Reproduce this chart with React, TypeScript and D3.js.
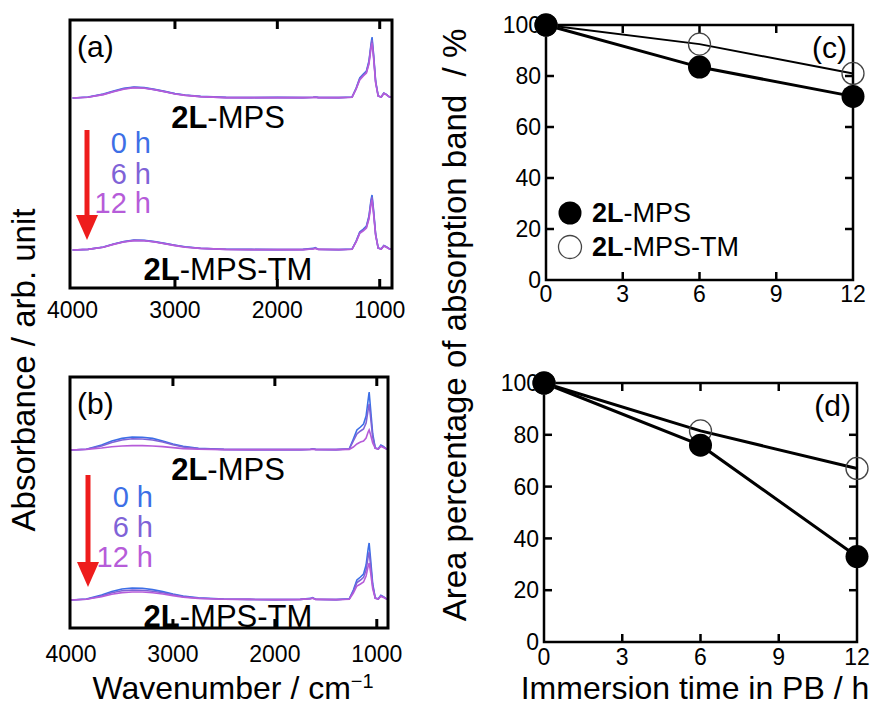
import React, { useRef, useEffect } from "react";
import * as d3 from "d3";

const wavenumbers = [4000, 3850, 3700, 3600, 3500, 3400, 3300, 3200, 3100, 3000, 2900, 2750, 2500, 2250, 2000, 1750, 1650, 1630, 1600, 1400, 1270, 1230, 1195, 1160, 1130, 1105, 1085, 1075, 1060, 1040, 1015, 985, 960, 935, 905, 880];

const hourLabels = ["0 h", "6 h", "12 h"];
const hourColors = ["#3d6fe6", "#7f63d7", "#b65cd9"];
const sampleNames = ["-MPS", "-MPS-TM"];

// panel (a) absorbance, 2L-MPS at 0 / 6 / 12 h
const aMps0 = [0, 0.005, 0.02, 0.035, 0.048, 0.055, 0.052, 0.043, 0.033, 0.022, 0.015, 0.008, 0.003, 0.002, 0.003, 0.002, 0.004, 0.005, 0.003, 0.002, 0.005, 0.05, 0.1, 0.12, 0.135, 0.185, 0.27, 0.305, 0.22, 0.085, 0.01, 0.005, 0.025, 0.018, 0.005, 0.005];
const aMps6 = [0, 0.004, 0.018, 0.033, 0.046, 0.053, 0.05, 0.042, 0.032, 0.021, 0.014, 0.007, 0.002, 0.002, 0.002, 0.002, 0.003, 0.004, 0.002, 0.002, 0.004, 0.047, 0.095, 0.115, 0.13, 0.178, 0.26, 0.29, 0.21, 0.08, 0.01, 0.005, 0.024, 0.017, 0.005, 0.005];
const aMps12 = [0, 0.004, 0.017, 0.031, 0.044, 0.051, 0.049, 0.041, 0.031, 0.02, 0.013, 0.007, 0.002, 0.002, 0.002, 0.002, 0.003, 0.004, 0.002, 0.002, 0.004, 0.045, 0.09, 0.11, 0.125, 0.17, 0.25, 0.275, 0.2, 0.075, 0.009, 0.005, 0.023, 0.016, 0.005, 0.005];
// panel (a), 2L-MPS-TM
const aTm0 = [0, 0.003, 0.015, 0.03, 0.042, 0.05, 0.049, 0.042, 0.033, 0.024, 0.016, 0.009, 0.004, 0.003, 0.002, 0.003, 0.008, 0.012, 0.004, 0.002, 0.005, 0.045, 0.09, 0.105, 0.12, 0.17, 0.25, 0.275, 0.2, 0.08, 0.01, 0.006, 0.022, 0.016, 0.006, 0.005];
const aTm6 = [0, 0.003, 0.014, 0.029, 0.041, 0.048, 0.047, 0.041, 0.032, 0.023, 0.015, 0.008, 0.003, 0.002, 0.002, 0.002, 0.006, 0.01, 0.003, 0.002, 0.004, 0.043, 0.087, 0.1, 0.115, 0.163, 0.24, 0.265, 0.19, 0.077, 0.009, 0.005, 0.021, 0.015, 0.005, 0.005];
const aTm12 = [0, 0.003, 0.014, 0.028, 0.04, 0.047, 0.046, 0.04, 0.031, 0.022, 0.014, 0.008, 0.003, 0.002, 0.002, 0.002, 0.005, 0.008, 0.003, 0.002, 0.004, 0.04, 0.083, 0.096, 0.11, 0.155, 0.228, 0.25, 0.18, 0.073, 0.009, 0.005, 0.02, 0.014, 0.005, 0.005];

// panel (b), 2L-MPS
const bMps0 = [0, 0.004, 0.025, 0.045, 0.058, 0.065, 0.064, 0.058, 0.045, 0.03, 0.018, 0.008, 0.003, 0.002, 0.002, 0.002, 0.004, 0.006, 0.003, 0.002, 0.006, 0.055, 0.1, 0.115, 0.13, 0.17, 0.25, 0.29, 0.2, 0.08, 0.01, 0.006, 0.025, 0.018, 0.005, 0.005];
const bMps6 = [0, 0.004, 0.02, 0.038, 0.05, 0.056, 0.055, 0.05, 0.04, 0.026, 0.015, 0.007, 0.003, 0.002, 0.002, 0.002, 0.003, 0.005, 0.003, 0.002, 0.005, 0.045, 0.08, 0.095, 0.105, 0.135, 0.2, 0.23, 0.16, 0.065, 0.009, 0.005, 0.02, 0.015, 0.005, 0.005];
const bMps12 = [0, 0.003, 0.01, 0.016, 0.02, 0.022, 0.022, 0.02, 0.017, 0.012, 0.007, 0.004, 0.002, 0.002, 0.002, 0.002, 0.003, 0.004, 0.002, 0.002, 0.003, 0.015, 0.03, 0.04, 0.045, 0.06, 0.09, 0.1, 0.075, 0.035, 0.008, 0.005, 0.018, 0.012, 0.005, 0.005];
// panel (b), 2L-MPS-TM
const bTm0 = [0, 0.005, 0.025, 0.043, 0.055, 0.06, 0.059, 0.052, 0.042, 0.03, 0.02, 0.011, 0.005, 0.003, 0.002, 0.003, 0.008, 0.012, 0.004, 0.002, 0.006, 0.05, 0.1, 0.115, 0.13, 0.175, 0.255, 0.285, 0.2, 0.08, 0.01, 0.006, 0.024, 0.017, 0.006, 0.005];
const bTm6 = [0, 0.004, 0.02, 0.036, 0.046, 0.05, 0.049, 0.044, 0.036, 0.026, 0.017, 0.009, 0.004, 0.003, 0.002, 0.003, 0.007, 0.01, 0.003, 0.002, 0.005, 0.043, 0.087, 0.1, 0.113, 0.15, 0.215, 0.24, 0.17, 0.07, 0.009, 0.005, 0.021, 0.015, 0.005, 0.005];
const bTm12 = [0, 0.004, 0.016, 0.029, 0.037, 0.04, 0.04, 0.036, 0.03, 0.022, 0.014, 0.008, 0.004, 0.003, 0.002, 0.003, 0.006, 0.009, 0.003, 0.002, 0.004, 0.035, 0.07, 0.08, 0.09, 0.12, 0.168, 0.185, 0.135, 0.056, 0.008, 0.005, 0.018, 0.013, 0.005, 0.005];

const wnTicks = [4000, 3000, 2000, 1000];

// area percentage of absorption band vs immersion time
const times = [0, 6, 12];
const cMps = [100, 83.5, 72];
const cTm = [100, 92.5, 81];
const dMps = [100, 76, 33];
const dTm = [100, 81.5, 67];
const timeTicks = [0, 3, 6, 9, 12];
const pctTicks = [0, 20, 40, 60, 80, 100];

const FONT = "'Liberation Sans', Arial, sans-serif";

const App = () => {
  const svgRef = useRef<SVGSVGElement>(null);

  useEffect(() => {
    const svg = d3.select(svgRef.current);
    svg.selectAll("*").remove();
    svg.attr("font-family", FONT);

    const sampleLabel = (x, y, name, size) => {
      const t = svg.append("text").attr("x", x).attr("y", y).attr("text-anchor", "middle").style("font-size", size + "px");
      t.append("tspan").attr("font-weight", "bold").text("2L");
      t.append("tspan").text(name);
    };

    const spectra = (p) => {
      const x = d3.scaleLinear().domain(p.xDomain).range([p.left, p.right]);
      const y = d3.scaleLinear().domain([0, p.yMax]).range([p.bottom, p.top]);

      p.sets.forEach((group, gi) => {
        group.forEach((vals, ti) => {
          const line = d3
            .line<number>()
            .x((_, i) => x(wavenumbers[i]))
            .y((d) => y(d + p.offsets[gi]));
          svg.append("path")
            .attr("d", line(vals))
            .attr("fill", "none")
            .attr("stroke", hourColors[ti])
            .attr("stroke-width", 1.6);
        });
      });

      // frame + inward ticks
      svg.append("rect")
        .attr("x", p.left).attr("y", p.top)
        .attr("width", p.right - p.left).attr("height", p.bottom - p.top)
        .attr("fill", "none").attr("stroke", "#000").attr("stroke-width", 3);
      wnTicks.filter((t) => t < 4000).forEach((t) => {
        svg.append("line").attr("x1", x(t)).attr("x2", x(t)).attr("y1", p.top).attr("y2", p.top + 9).attr("stroke", "#000").attr("stroke-width", 3);
        svg.append("line").attr("x1", x(t)).attr("x2", x(t)).attr("y1", p.bottom).attr("y2", p.bottom - 9).attr("stroke", "#000").attr("stroke-width", 3);
      });
      svg.selectAll(null)
        .data(wnTicks)
        .enter()
        .append("text")
        .attr("x", (d) => x(d))
        .attr("y", p.tickY)
        .attr("text-anchor", "middle")
        .style("font-size", "23px")
        .text((d) => d);

      // sample names
      sampleLabel(228, p.labelY[0], sampleNames[0], 31);
      sampleLabel(228, p.labelY[1], sampleNames[1], 31);

      // time legend + arrow
      hourLabels.forEach((h, i) => {
        svg.append("text")
          .attr("x", p.hourX).attr("y", p.hourY[i])
          .attr("text-anchor", "end")
          .attr("fill", hourColors[i])
          .style("font-size", "29px")
          .text(h);
      });
      svg.append("line")
        .attr("x1", p.arrowX).attr("x2", p.arrowX)
        .attr("y1", p.arrow[0]).attr("y2", p.arrow[1] - 22)
        .attr("stroke", "#ee1c1c").attr("stroke-width", 5);
      svg.append("path")
        .attr("d", `M${p.arrowX - 11},${p.arrow[1] - 25}L${p.arrowX + 11},${p.arrow[1] - 25}L${p.arrowX},${p.arrow[1]}Z`)
        .attr("fill", "#ee1c1c");

      svg.append("text")
        .attr("x", p.left + 7).attr("y", p.top + 37)
        .style("font-size", "30px")
        .text(p.letter);
    };

    spectra({
      left: 70, right: 392, top: 20, bottom: 288,
      xDomain: [4025, 880], yMax: 1.34, offsets: [0.95, 0.19],
      sets: [[aMps0, aMps6, aMps12], [aTm0, aTm6, aTm12]],
      tickY: 318, labelY: [128, 280],
      hourX: 151, hourY: [153, 184, 213],
      arrowX: 87, arrow: [130, 240], letter: "(a)",
    });
    spectra({
      left: 70, right: 388, top: 377, bottom: 628,
      xDomain: [4010, 890], yMax: 1.255, offsets: [0.89, 0.14],
      sets: [[bMps0, bMps6, bMps12], [bTm0, bTm6, bTm12]],
      tickY: 662, labelY: [480, 627],
      hourX: 153, hourY: [507, 537, 567],
      arrowX: 88, arrow: [475, 587], letter: "(b)",
    });

    const ratio = (p) => {
      const x = d3.scaleLinear().domain([0, 12]).range([p.left, p.right]);
      const y = d3.scaleLinear().domain([0, 100]).range([p.bottom, p.top]);

      svg.append("rect")
        .attr("x", p.left).attr("y", p.top)
        .attr("width", p.right - p.left).attr("height", p.bottom - p.top)
        .attr("fill", "none").attr("stroke", "#000").attr("stroke-width", 2.5);

      timeTicks.slice(1, -1).forEach((t) => {
        svg.append("line").attr("x1", x(t)).attr("x2", x(t)).attr("y1", p.top).attr("y2", p.top + 8).attr("stroke", "#000").attr("stroke-width", 2.5);
        svg.append("line").attr("x1", x(t)).attr("x2", x(t)).attr("y1", p.bottom).attr("y2", p.bottom - 8).attr("stroke", "#000").attr("stroke-width", 2.5);
      });
      pctTicks.slice(1, -1).forEach((t) => {
        svg.append("line").attr("x1", p.left).attr("x2", p.left + 8).attr("y1", y(t)).attr("y2", y(t)).attr("stroke", "#000").attr("stroke-width", 2.5);
        svg.append("line").attr("x1", p.right).attr("x2", p.right - 8).attr("y1", y(t)).attr("y2", y(t)).attr("stroke", "#000").attr("stroke-width", 2.5);
      });

      svg.selectAll(null).data(timeTicks).enter().append("text")
        .attr("x", (d) => x(d)).attr("y", p.tickY)
        .attr("text-anchor", "middle").style("font-size", "23px")
        .text((d) => d);
      svg.selectAll(null).data(pctTicks).enter().append("text")
        .attr("x", p.left - 5).attr("y", (d) => y(d)).attr("dy", "0.36em")
        .attr("text-anchor", "end").style("font-size", "23px")
        .text((d) => d);

      const line = d3.line<number>().x((_, i) => x(times[i])).y((d) => y(d));
      svg.append("path").attr("d", line(p.tm)).attr("fill", "none").attr("stroke", "#000").attr("stroke-width", p.tmWidth);
      svg.append("path").attr("d", line(p.mps)).attr("fill", "none").attr("stroke", "#000").attr("stroke-width", 3);

      svg.selectAll(null).data(p.tm).enter().append("circle")
        .attr("cx", (_, i) => x(times[i])).attr("cy", (d) => y(d)).attr("r", 11)
        .attr("fill", "none").attr("stroke", "#444").attr("stroke-width", 1.3);
      svg.selectAll(null).data(p.mps).enter().append("circle")
        .attr("cx", (_, i) => x(times[i])).attr("cy", (d) => y(d)).attr("r", 11.5)
        .attr("fill", "#000");

      svg.append("text")
        .attr("x", p.right - 6).attr("y", p.top + 33)
        .attr("text-anchor", "end").style("font-size", "30px")
        .text(p.letter);
    };

    ratio({ left: 546, right: 853, top: 25, bottom: 280, tickY: 302, mps: cMps, tm: cTm, tmWidth: 2, letter: "(c)" });
    ratio({ left: 544, right: 857, top: 383, bottom: 642, tickY: 665, mps: dMps, tm: dTm, tmWidth: 3, letter: "(d)" });

    // legend in (c)
    svg.append("circle").attr("cx", 570).attr("cy", 213).attr("r", 11.5).attr("fill", "#000");
    svg.append("circle").attr("cx", 570).attr("cy", 247).attr("r", 11.5).attr("fill", "none").attr("stroke", "#444").attr("stroke-width", 1.3);
    [["-MPS", 222], ["-MPS-TM", 256]].forEach(([n, yy]) => {
      const t = svg.append("text").attr("x", 592).attr("y", yy).style("font-size", "27px");
      t.append("tspan").attr("font-weight", "bold").text("2L");
      t.append("tspan").text(n);
    });

    // axis titles
    svg.append("text")
      .attr("transform", "translate(35,370) rotate(-90)")
      .attr("text-anchor", "middle").style("font-size", "33px")
      .text("Absorbance / arb. unit");
    svg.append("text")
      .attr("transform", "translate(466,325) rotate(-90)")
      .attr("text-anchor", "middle").style("font-size", "33px")
      .attr("xml:space", "preserve")
      .style("white-space", "pre")
      .text("Area percentage of absorption band  / %");
    const wl = svg.append("text")
      .attr("x", 233).attr("y", 699)
      .attr("text-anchor", "middle").style("font-size", "32px");
    wl.append("tspan").text("Wavenumber / cm");
    wl.append("tspan").attr("dy", -11).style("font-size", "20px").text("\u22121");
    svg.append("text")
      .attr("x", 695).attr("y", 699)
      .attr("text-anchor", "middle").style("font-size", "32px")
      .text("Immersion time in PB / h");
  }, []);

  return (
    <svg
      ref={svgRef}
      width={882}
      height={708}
      style={{ position: "absolute", left: 0, top: 0, background: "#fff" }}
    ></svg>
  );
};

export default App;
